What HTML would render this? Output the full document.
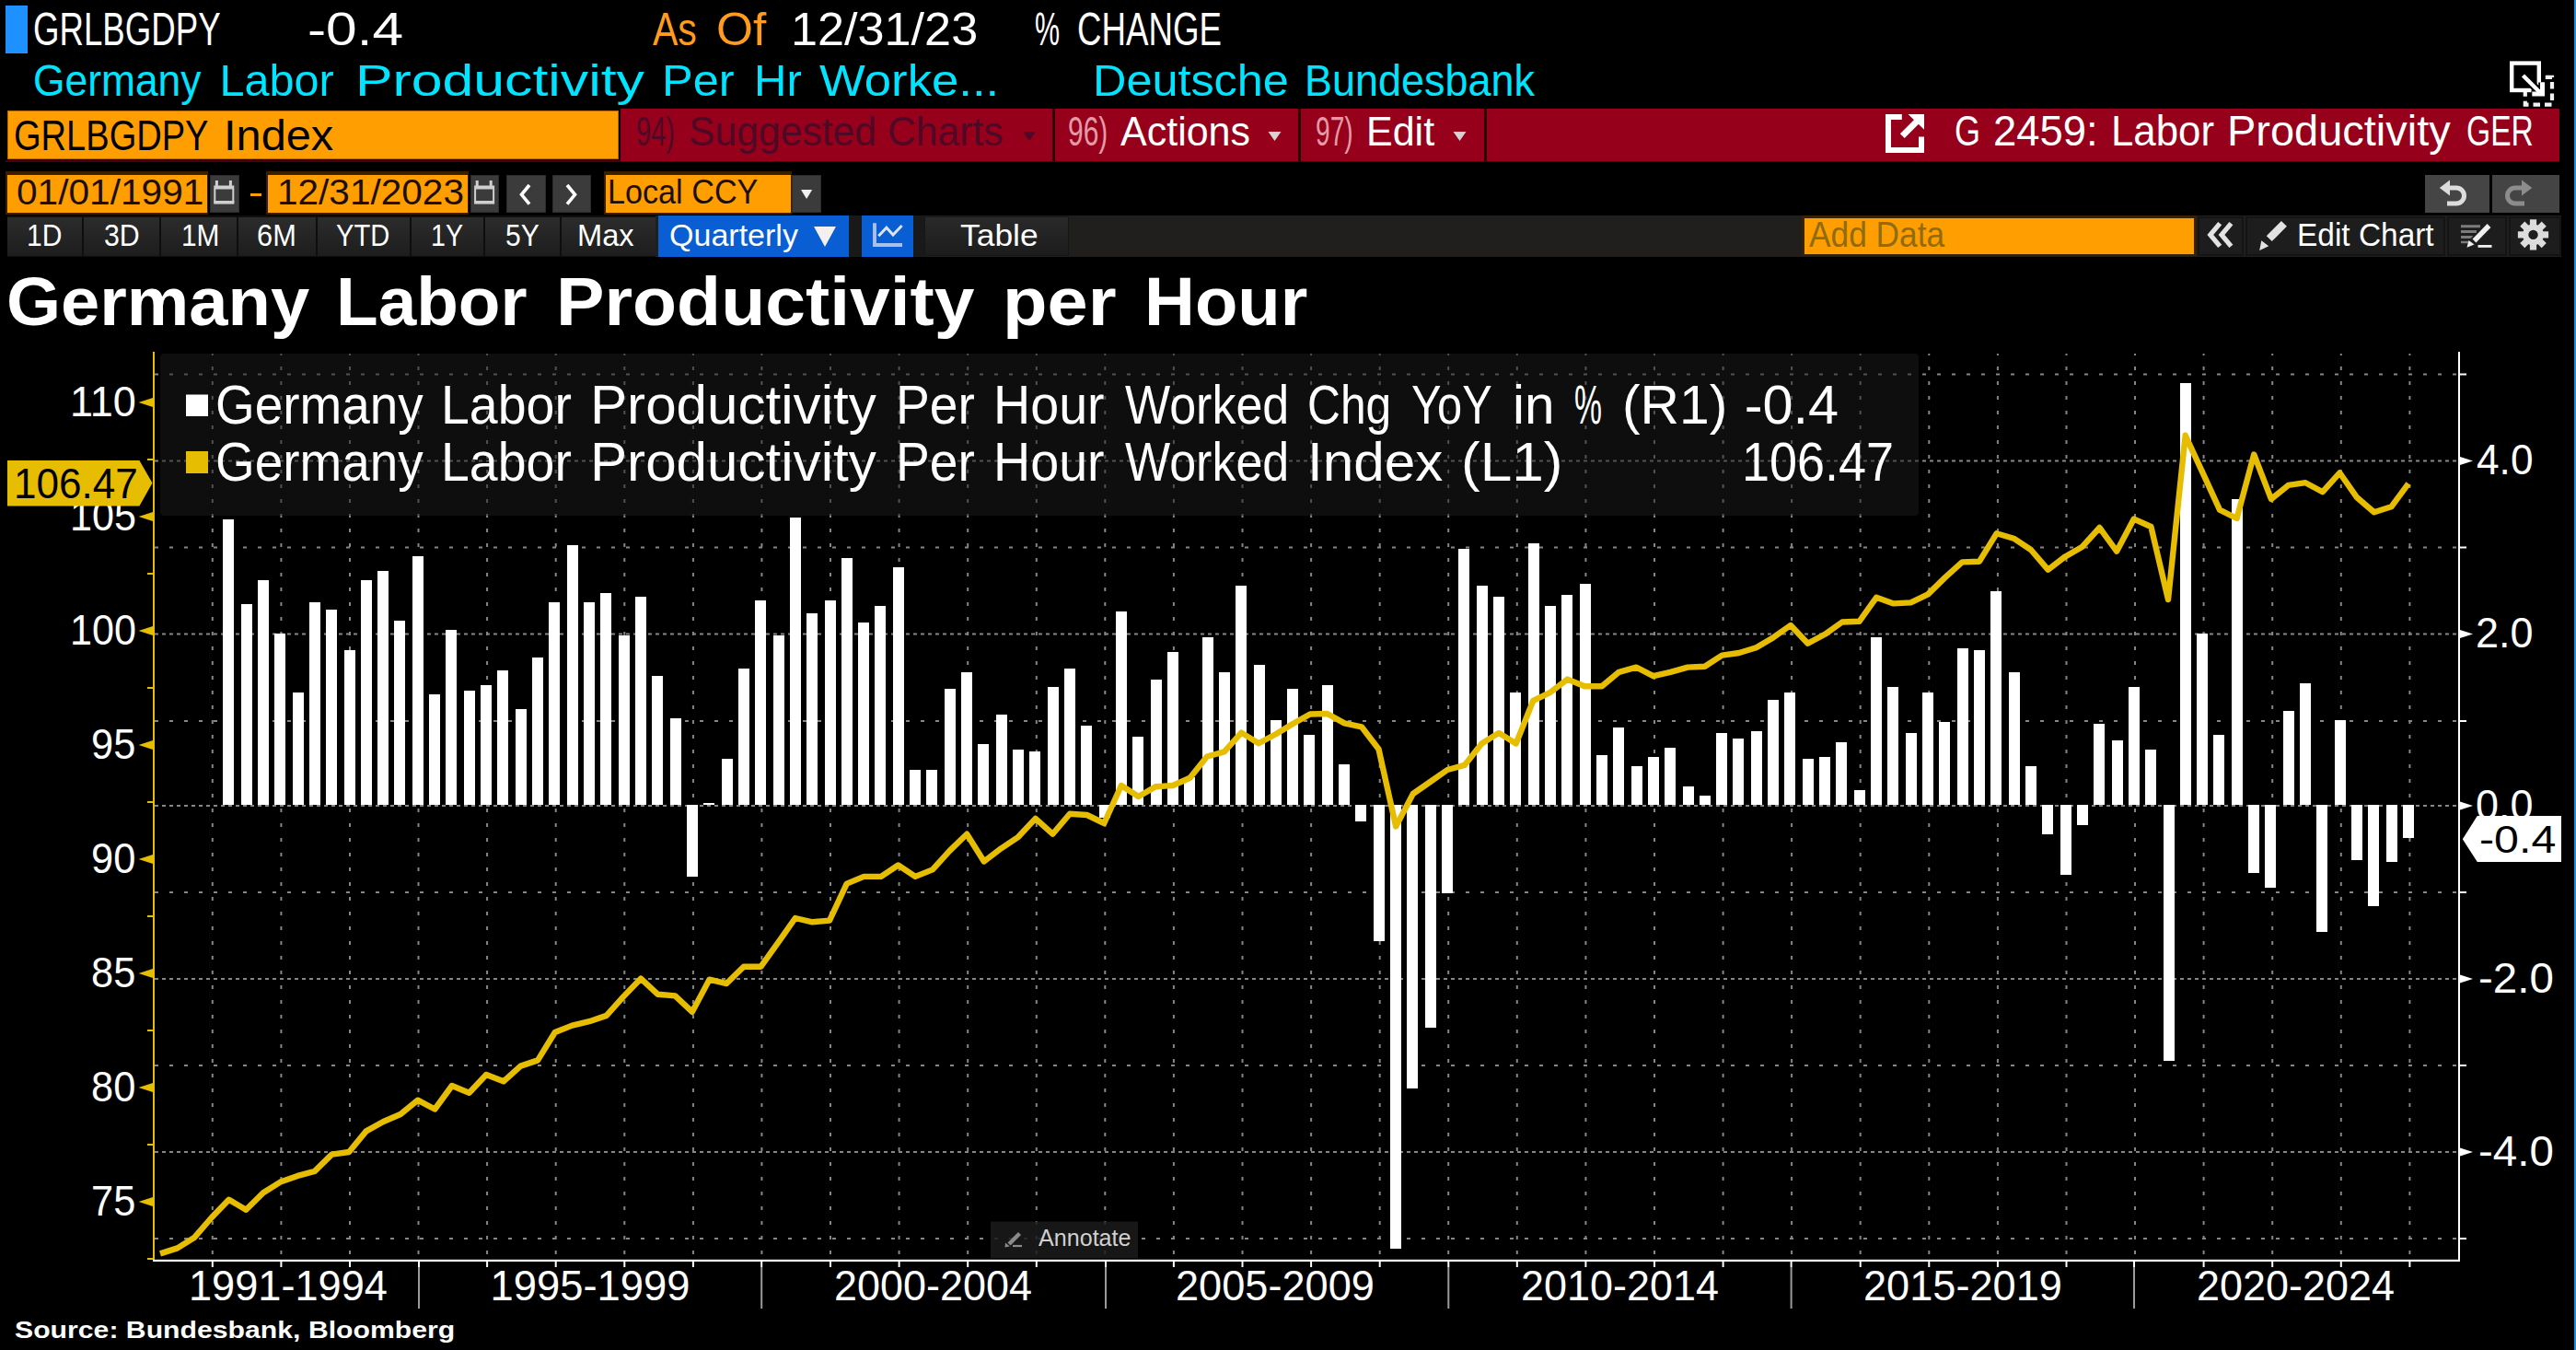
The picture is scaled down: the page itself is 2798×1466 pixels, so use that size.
<!DOCTYPE html>
<html><head><meta charset="utf-8"><title>GRLBGDPY Index</title>
<style>
html,body{margin:0;padding:0;background:#000;}
body{width:2798px;height:1466px;overflow:hidden;position:relative;font-family:"Liberation Sans",sans-serif;}
.t{position:absolute;white-space:pre;transform-origin:0 0;font-family:"Liberation Sans",sans-serif;}
svg{display:block;overflow:visible}
</style></head><body>
<div style="position:absolute;left:6.00px;top:6.00px;width:24.00px;height:52.00px;background:#1e90ff;"></div>
<div style="position:absolute;left:2796.00px;top:0.00px;width:2.00px;height:1466.00px;background:#1c8fe0;"></div>
<div style="position:absolute;left:8.00px;top:120.00px;width:664.00px;height:53.00px;background:#ff9e00;box-shadow:inset 0 0 0 1px #b86a00;"></div>
<div style="position:absolute;left:6.00px;top:174.00px;width:2774.00px;height:2.00px;background:#4a000c;"></div>
<div style="position:absolute;left:674.00px;top:118.00px;width:2106.00px;height:57.00px;background:#97001b;"></div>
<div style="position:absolute;left:1143.00px;top:118.00px;width:3.00px;height:57.00px;background:#2a0006;"></div>
<div style="position:absolute;left:1410.00px;top:118.00px;width:3.00px;height:57.00px;background:#2a0006;"></div>
<div style="position:absolute;left:1612.00px;top:118.00px;width:3.00px;height:57.00px;background:#2a0006;"></div>
<div style="position:absolute;left:6.00px;top:186.40px;width:220.00px;height:46.40px;background:#3a1e00;"></div>
<div style="position:absolute;left:8.00px;top:190.00px;width:217.00px;height:40.50px;background:#ff9e00;"></div>
<div style="position:absolute;left:289.00px;top:186.40px;width:220.00px;height:46.40px;background:#3a1e00;"></div>
<div style="position:absolute;left:291.00px;top:190.00px;width:217.00px;height:40.50px;background:#ff9e00;"></div>
<div style="position:absolute;left:656.00px;top:186.40px;width:203.50px;height:46.40px;background:#3a1e00;"></div>
<div style="position:absolute;left:658.00px;top:190.00px;width:200.50px;height:40.50px;background:#ff9e00;"></div>
<div style="position:absolute;left:227.50px;top:190.00px;width:32.50px;height:40.50px;background:#3b3b3b;box-shadow:inset 0 0 0 1px #2c2c2c;"></div>
<div style="position:absolute;left:510.50px;top:190.00px;width:31.50px;height:40.50px;background:#3b3b3b;box-shadow:inset 0 0 0 1px #2c2c2c;"></div>
<div style="position:absolute;left:549.50px;top:190.00px;width:43.00px;height:40.50px;background:#3b3b3b;box-shadow:inset 0 0 0 1px #2c2c2c;"></div>
<div style="position:absolute;left:600.00px;top:190.00px;width:42.00px;height:40.50px;background:#3b3b3b;box-shadow:inset 0 0 0 1px #2c2c2c;"></div>
<div style="position:absolute;left:860.00px;top:190.00px;width:32.00px;height:40.50px;background:#3b3b3b;box-shadow:inset 0 0 0 1px #2c2c2c;"></div>
<div style="position:absolute;left:272.00px;top:209.50px;width:12.00px;height:3.00px;background:#ff9e00;"></div>
<div style="position:absolute;left:2634.00px;top:190.00px;width:70.00px;height:40.50px;background:#454545;"></div>
<div style="position:absolute;left:2706.50px;top:190.00px;width:73.50px;height:40.50px;background:#444444;"></div>
<div style="position:absolute;left:8.00px;top:234.00px;width:2773.50px;height:45.00px;background:#201f1e;"></div>
<div style="position:absolute;left:8.00px;top:234.00px;width:704.00px;height:45.00px;background:#0e0e0e;"></div>
<div style="position:absolute;left:8.00px;top:235.50px;width:81.00px;height:42.50px;background:linear-gradient(#2c2c2c,#1d1d1d);"></div>
<div style="position:absolute;left:91.00px;top:235.50px;width:81.50px;height:42.50px;background:linear-gradient(#2c2c2c,#1d1d1d);"></div>
<div style="position:absolute;left:174.50px;top:235.50px;width:82.50px;height:42.50px;background:linear-gradient(#2c2c2c,#1d1d1d);"></div>
<div style="position:absolute;left:259.00px;top:235.50px;width:83.50px;height:42.50px;background:linear-gradient(#2c2c2c,#1d1d1d);"></div>
<div style="position:absolute;left:344.50px;top:235.50px;width:100.00px;height:42.50px;background:linear-gradient(#2c2c2c,#1d1d1d);"></div>
<div style="position:absolute;left:446.50px;top:235.50px;width:78.00px;height:42.50px;background:linear-gradient(#2c2c2c,#1d1d1d);"></div>
<div style="position:absolute;left:526.50px;top:235.50px;width:81.50px;height:42.50px;background:linear-gradient(#2c2c2c,#1d1d1d);"></div>
<div style="position:absolute;left:610.00px;top:235.50px;width:102.00px;height:42.50px;background:linear-gradient(#2c2c2c,#1d1d1d);"></div>
<div style="position:absolute;left:714.50px;top:234.00px;width:207.00px;height:44.50px;background:#085ed2;"></div>
<div style="position:absolute;left:921.50px;top:234.00px;width:14.00px;height:45.00px;background:#191919;"></div>
<div style="position:absolute;left:935.75px;top:234.00px;width:56.25px;height:44.50px;background:#085ed2;"></div>
<div style="position:absolute;left:992.00px;top:234.00px;width:12.00px;height:45.00px;background:#191919;"></div>
<div style="position:absolute;left:1004.00px;top:235.00px;width:157.00px;height:43.00px;background:linear-gradient(#2a2a2a,#1c1c1c);box-shadow:inset 0 0 0 1px #161616;"></div>
<div style="position:absolute;left:1957.00px;top:234.00px;width:428.00px;height:44.00px;background:#3a2200;"></div>
<div style="position:absolute;left:1959.50px;top:236.50px;width:423.00px;height:39.00px;background:#ff9e00;"></div>
<div style="position:absolute;left:2387.00px;top:235.00px;width:49.50px;height:43.00px;background:#1d1d1d;box-shadow:inset 0 0 0 2px #141414;"></div>
<div style="position:absolute;left:2439.00px;top:235.00px;width:217.00px;height:43.00px;background:#1d1d1d;box-shadow:inset 0 0 0 2px #141414;"></div>
<div style="position:absolute;left:2657.75px;top:235.00px;width:65.00px;height:43.00px;background:#1d1d1d;box-shadow:inset 0 0 0 2px #141414;"></div>
<div style="position:absolute;left:2724.50px;top:235.00px;width:57.00px;height:43.00px;background:#1d1d1d;box-shadow:inset 0 0 0 2px #141414;"></div>
<svg style="position:absolute;left:0;top:0" width="2798" height="1466" viewBox="0 0 2798 1466"><path d="M168 500.5H2670 M168 688.5H2670 M168 875H2670 M168 1063H2670 M168 1251H2670" stroke="#868686" stroke-width="2" stroke-dasharray="4 4" fill="none"/><path d="M168 406.5H2670 M168 594.5H2670 M168 783H2670 M168 969H2670 M168 1157H2670 M168 1345H2670" stroke="#868686" stroke-width="2" stroke-dasharray="4 12" fill="none"/><path d="M230.8 384V1368 M305.4 384V1368 M380.0 384V1368 M454.5 384V1368 M529.1 384V1368 M603.7 384V1368 M678.3 384V1368 M752.9 384V1368 M827.4 384V1368 M902.0 384V1368 M976.6 384V1368 M1051.2 384V1368 M1125.8 384V1368 M1200.3 384V1368 M1274.9 384V1368 M1349.5 384V1368 M1424.1 384V1368 M1498.7 384V1368 M1573.2 384V1368 M1647.8 384V1368 M1722.4 384V1368 M1797.0 384V1368 M1871.6 384V1368 M1946.1 384V1368 M2020.7 384V1368 M2095.3 384V1368 M2169.9 384V1368 M2244.5 384V1368 M2319.0 384V1368 M2393.6 384V1368 M2468.2 384V1368 M2542.8 384V1368 M2617.4 384V1368" stroke="#868686" stroke-width="2" stroke-dasharray="4 12" stroke-dashoffset="2" fill="none"/><rect x="174" y="384" width="1910" height="176" rx="4" fill="#1c1c1c" fill-opacity="0.5"/><path d="M242 564h12V874h-12ZM262 656h12V874h-12ZM280 630h12V874h-12ZM298 688h12V874h-12ZM318 752h12V874h-12ZM336 654h12V874h-12ZM354 662h12V874h-12ZM374 706h12V874h-12ZM392 630h12V874h-12ZM410 620h12V874h-12ZM428 674h12V874h-12ZM448 604h12V874h-12ZM466 754h12V874h-12ZM484 684h12V874h-12ZM504 750h12V874h-12ZM522 744h12V874h-12ZM540 728h12V874h-12ZM560 770h12V874h-12ZM578 714h12V874h-12ZM596 654h12V874h-12ZM616 592h12V874h-12ZM634 654h12V874h-12ZM652 644h12V874h-12ZM672 690h12V874h-12ZM690 648h12V874h-12ZM708 734h12V874h-12ZM728 780h12V874h-12ZM746 874h12V952h-12ZM764 872h12V874h-12ZM784 824h12V874h-12ZM802 726h12V874h-12ZM820 652h12V874h-12ZM840 690h12V874h-12ZM858 562h12V874h-12ZM876 666h12V874h-12ZM896 652h12V874h-12ZM914 606h12V874h-12ZM932 676h12V874h-12ZM950 658h12V874h-12ZM970 616h12V874h-12ZM988 836h12V874h-12ZM1006 836h12V874h-12ZM1026 748h12V874h-12ZM1044 730h12V874h-12ZM1062 808h12V874h-12ZM1082 776h12V874h-12ZM1100 814h12V874h-12ZM1118 816h12V874h-12ZM1138 746h12V874h-12ZM1156 726h12V874h-12ZM1174 788h12V874h-12ZM1194 874h12V888h-12ZM1212 664h12V874h-12ZM1230 800h12V874h-12ZM1250 738h12V874h-12ZM1268 708h12V874h-12ZM1286 844h12V874h-12ZM1306 692h12V874h-12ZM1324 730h12V874h-12ZM1342 636h12V874h-12ZM1362 722h12V874h-12ZM1380 782h12V874h-12ZM1398 748h12V874h-12ZM1416 798h12V874h-12ZM1436 744h12V874h-12ZM1454 830h12V874h-12ZM1472 874h12V892h-12ZM1492 874h12V1022h-12ZM1510 874h12V1356h-12ZM1528 874h12V1182h-12ZM1548 874h12V1116h-12ZM1566 874h12V970h-12ZM1584 596h12V874h-12ZM1604 636h12V874h-12ZM1622 648h12V874h-12ZM1640 752h12V874h-12ZM1660 590h12V874h-12ZM1678 658h12V874h-12ZM1696 646h12V874h-12ZM1716 634h12V874h-12ZM1734 820h12V874h-12ZM1752 790h12V874h-12ZM1772 832h12V874h-12ZM1790 822h12V874h-12ZM1808 812h12V874h-12ZM1828 854h12V874h-12ZM1846 864h12V874h-12ZM1864 796h12V874h-12ZM1882 802h12V874h-12ZM1902 794h12V874h-12ZM1920 760h12V874h-12ZM1938 752h12V874h-12ZM1958 824h12V874h-12ZM1976 822h12V874h-12ZM1994 806h12V874h-12ZM2014 858h12V874h-12ZM2032 692h12V874h-12ZM2050 746h12V874h-12ZM2070 796h12V874h-12ZM2088 752h12V874h-12ZM2106 784h12V874h-12ZM2126 704h12V874h-12ZM2144 706h12V874h-12ZM2162 642h12V874h-12ZM2182 730h12V874h-12ZM2200 832h12V874h-12ZM2218 874h12V906h-12ZM2238 874h12V950h-12ZM2256 874h12V896h-12ZM2274 786h12V874h-12ZM2294 804h12V874h-12ZM2312 746h12V874h-12ZM2330 814h12V874h-12ZM2350 874h12V1152h-12ZM2368 416h12V874h-12ZM2386 688h12V874h-12ZM2404 798h12V874h-12ZM2424 542h12V874h-12ZM2442 874h12V948h-12ZM2460 874h12V964h-12ZM2480 772h12V874h-12ZM2498 742h12V874h-12ZM2516 874h12V1012h-12ZM2536 782h12V874h-12ZM2554 874h12V934h-12ZM2572 874h12V984h-12ZM2592 874h12V936h-12ZM2610 874h12V910h-12Z" fill="#fff"/><polyline points="174.0,1361.4 192.7,1355.4 211.3,1343.7 230.0,1322.0 248.6,1302.7 267.2,1313.7 285.9,1295.3 304.5,1283.6 323.2,1276.9 341.8,1271.9 360.4,1253.6 379.1,1251.0 397.7,1228.4 416.4,1218.0 435.0,1210.0 453.7,1194.7 472.3,1204.5 490.9,1179.0 509.6,1186.7 528.2,1167.0 546.9,1174.3 565.5,1157.6 584.1,1151.4 602.8,1121.0 621.4,1113.6 640.1,1109.2 658.7,1102.9 677.3,1082.1 696.0,1062.7 714.6,1079.8 733.3,1081.4 751.9,1098.8 770.5,1063.7 789.2,1068.1 807.8,1049.7 826.5,1049.7 845.1,1023.7 863.8,997.0 882.4,1001.3 901.0,999.6 919.7,959.6 938.3,951.9 957.0,951.9 975.6,939.5 994.2,951.9 1012.9,944.4 1031.5,923.9 1050.2,905.7 1068.8,935.5 1087.4,921.3 1106.1,908.8 1124.7,888.9 1143.4,905.7 1162.0,883.7 1180.6,885.0 1199.3,894.0 1217.9,853.0 1236.6,865.0 1255.2,854.2 1273.9,853.0 1292.5,844.8 1311.1,821.5 1329.8,816.3 1348.4,795.6 1367.1,807.2 1385.7,797.3 1404.3,786.0 1423.0,775.5 1441.6,775.0 1460.3,785.4 1478.9,789.3 1497.5,813.5 1516.2,897.5 1534.8,862.0 1553.5,849.0 1572.1,836.0 1590.8,830.9 1609.4,807.5 1628.0,795.9 1646.7,807.5 1665.3,760.9 1684.0,751.8 1702.6,737.6 1721.2,745.3 1739.9,745.3 1758.5,729.8 1777.2,724.6 1795.8,734.2 1814.4,729.8 1833.1,724.6 1851.7,723.8 1870.4,711.6 1889.0,709.0 1907.6,703.3 1926.3,692.2 1944.9,679.0 1963.6,698.8 1982.2,688.8 2000.9,675.5 2019.5,674.8 2038.1,648.8 2056.8,655.4 2075.4,654.4 2094.1,645.4 2112.7,627.1 2131.3,610.4 2150.0,609.7 2168.6,579.3 2187.3,584.7 2205.9,597.0 2224.5,618.7 2243.2,604.4 2261.8,593.7 2280.5,573.0 2299.1,598.7 2317.8,563.6 2336.4,572.0 2355.0,651.1 2373.7,472.8 2392.3,512.9 2411.0,553.6 2429.6,563.0 2448.2,493.5 2466.9,541.9 2485.5,526.9 2504.2,524.2 2522.8,534.2 2541.4,513.5 2560.1,540.3 2578.7,556.3 2597.4,550.3 2616.0,525.2" fill="none" stroke="#e6bd00" stroke-width="6.4" stroke-linejoin="round" stroke-linecap="butt"/><rect x="166" y="382" width="2" height="987" fill="#e6bd00"/><rect x="166" y="1367.8" width="2506" height="2.2" fill="#fff"/><rect x="2670" y="382" width="2" height="988" fill="#fff"/><path d="M150.5 437L166 432V442Z" fill="#e6bd00"/><path d="M150.5 561L166 556V566Z" fill="#e6bd00"/><path d="M150.5 685L166 680V690Z" fill="#e6bd00"/><path d="M150.5 809L166 804V814Z" fill="#e6bd00"/><path d="M150.5 933L166 928V938Z" fill="#e6bd00"/><path d="M150.5 1057L166 1052V1062Z" fill="#e6bd00"/><path d="M150.5 1181L166 1176V1186Z" fill="#e6bd00"/><path d="M150.5 1305L166 1300V1310Z" fill="#e6bd00"/><rect x="160" y="498" width="6" height="2" fill="#e6bd00"/><rect x="160" y="622" width="6" height="2" fill="#e6bd00"/><rect x="160" y="746" width="6" height="2" fill="#e6bd00"/><rect x="160" y="870" width="6" height="2" fill="#e6bd00"/><rect x="160" y="994" width="6" height="2" fill="#e6bd00"/><rect x="160" y="1118" width="6" height="2" fill="#e6bd00"/><rect x="160" y="1242" width="6" height="2" fill="#e6bd00"/><rect x="160" y="1366" width="6" height="2" fill="#e6bd00"/><path d="M2672 496.0L2686 500.5L2672 505.0Z" fill="#fff"/><path d="M2672 684.0L2686 688.5L2672 693.0Z" fill="#fff"/><path d="M2672 870.5L2686 875L2672 879.5Z" fill="#fff"/><path d="M2672 1058.5L2686 1063L2672 1067.5Z" fill="#fff"/><path d="M2672 1246.5L2686 1251L2672 1255.5Z" fill="#fff"/><rect x="2672" y="405.5" width="7" height="2" fill="#fff"/><rect x="2672" y="593.5" width="7" height="2" fill="#fff"/><rect x="2672" y="782" width="7" height="2" fill="#fff"/><rect x="2672" y="968" width="7" height="2" fill="#fff"/><rect x="2672" y="1156" width="7" height="2" fill="#fff"/><rect x="2672" y="1344" width="7" height="2" fill="#fff"/><rect x="229.8" y="1370" width="2" height="6" fill="#fff"/><rect x="304.4" y="1370" width="2" height="6" fill="#fff"/><rect x="379.0" y="1370" width="2" height="6" fill="#fff"/><rect x="528.1" y="1370" width="2" height="6" fill="#fff"/><rect x="602.7" y="1370" width="2" height="6" fill="#fff"/><rect x="677.3" y="1370" width="2" height="6" fill="#fff"/><rect x="751.9" y="1370" width="2" height="6" fill="#fff"/><rect x="901.0" y="1370" width="2" height="6" fill="#fff"/><rect x="975.6" y="1370" width="2" height="6" fill="#fff"/><rect x="1050.2" y="1370" width="2" height="6" fill="#fff"/><rect x="1124.8" y="1370" width="2" height="6" fill="#fff"/><rect x="1273.9" y="1370" width="2" height="6" fill="#fff"/><rect x="1348.5" y="1370" width="2" height="6" fill="#fff"/><rect x="1423.1" y="1370" width="2" height="6" fill="#fff"/><rect x="1497.7" y="1370" width="2" height="6" fill="#fff"/><rect x="1646.8" y="1370" width="2" height="6" fill="#fff"/><rect x="1721.4" y="1370" width="2" height="6" fill="#fff"/><rect x="1796.0" y="1370" width="2" height="6" fill="#fff"/><rect x="1870.6" y="1370" width="2" height="6" fill="#fff"/><rect x="2019.7" y="1370" width="2" height="6" fill="#fff"/><rect x="2094.3" y="1370" width="2" height="6" fill="#fff"/><rect x="2168.9" y="1370" width="2" height="6" fill="#fff"/><rect x="2243.5" y="1370" width="2" height="6" fill="#fff"/><rect x="2392.6" y="1370" width="2" height="6" fill="#fff"/><rect x="2467.2" y="1370" width="2" height="6" fill="#fff"/><rect x="2541.8" y="1370" width="2" height="6" fill="#fff"/><rect x="2616.4" y="1370" width="2" height="6" fill="#fff"/><rect x="454.0" y="1370" width="2" height="6" fill="#fff"/><rect x="454.0" y="1376" width="2" height="45" fill="#9a9a9a"/><rect x="826.2" y="1370" width="2" height="6" fill="#fff"/><rect x="826.2" y="1376" width="2" height="45" fill="#9a9a9a"/><rect x="1200.0" y="1370" width="2" height="6" fill="#fff"/><rect x="1200.0" y="1376" width="2" height="45" fill="#9a9a9a"/><rect x="1572.3" y="1370" width="2" height="6" fill="#fff"/><rect x="1572.3" y="1376" width="2" height="45" fill="#9a9a9a"/><rect x="1944.6" y="1370" width="2" height="6" fill="#fff"/><rect x="1944.6" y="1376" width="2" height="45" fill="#9a9a9a"/><rect x="2317.0" y="1370" width="2" height="6" fill="#fff"/><rect x="2317.0" y="1376" width="2" height="45" fill="#9a9a9a"/><rect x="202" y="428.5" width="24" height="23.5" fill="#fff"/><rect x="202" y="490" width="24" height="24" fill="#e6bd00"/><rect x="1076" y="1326.5" width="160" height="39.7" fill="#1b1b1b" fill-opacity="0.85"/></svg>
<svg style="position:absolute;left:0;top:0" width="2798" height="1466" viewBox="0 0 2798 1466"><path d="M1111 143h14l-7 10z" fill="#4f0926"/><path d="M1377.5 143h14l-7 10z" fill="#d8d2d2"/><path d="M1578.5 143h14l-7 10z" fill="#d8d2d2"/><path d="M870 206h12.2l-6.1 10z" fill="#f0f0f0"/><path d="M884 246h24l-12 22z" fill="#f4f0f0"/><rect x="233.9" y="196" width="3" height="8" fill="#cfcfcf"/><rect x="248.9" y="196" width="3" height="8" fill="#cfcfcf"/><rect x="232.3" y="201.5" width="22" height="4" fill="#cfcfcf"/><path d="M233.3 205V219.5H253.3V205" fill="none" stroke="#cfcfcf" stroke-width="2"/><rect x="232.3" y="218" width="22" height="3.6" fill="#cfcfcf"/><rect x="516.7" y="196" width="3" height="8" fill="#cfcfcf"/><rect x="531.7" y="196" width="3" height="8" fill="#cfcfcf"/><rect x="515.1" y="201.5" width="22" height="4" fill="#cfcfcf"/><path d="M516.1 205V219.5H536.1V205" fill="none" stroke="#cfcfcf" stroke-width="2"/><rect x="515.1" y="218" width="22" height="3.6" fill="#cfcfcf"/><path d="M575 201L566.5 211.3L575 221.6" fill="none" stroke="#fff" stroke-width="3.6"/><path d="M616 201L624.5 211.3L616 221.6" fill="none" stroke="#fff" stroke-width="3.6"/><path d="M950 242.2V266H980" fill="none" stroke="#a9c1ea" stroke-width="3.9"/><path d="M954.3 256.2L962.9 247.2L970 255L979.6 245" fill="none" stroke="#dfe3ee" stroke-width="3"/><path d="M2065.8 127H2051V163H2087V148.4" fill="none" stroke="#fff" stroke-width="6"/><path d="M2066.3 147.6L2083.5 130.4" stroke="#fff" stroke-width="6.8"/><path d="M2072.5 124H2090V140.8Z" fill="#fff"/><rect x="2742.8" y="83.8" width="29.2" height="29.8" fill="none" stroke="#f2f2f2" stroke-width="4.2" stroke-dasharray="7.5 5" stroke-dashoffset="3"/><rect x="2728.2" y="68.6" width="29.6" height="29.4" fill="#000" stroke="#fff" stroke-width="4.4"/><path d="M2740.5 82L2760 101.5M2749.5 102H2761.5V89.5" fill="none" stroke="#000" stroke-width="8.5"/><path d="M2740.5 82L2760 101.5" fill="none" stroke="#fff" stroke-width="4.5"/><path d="M2750.3 102H2761.5V89.2" fill="none" stroke="#fff" stroke-width="5"/><path d="M2660 204H2668a8 8 0 0 1 0 17H2658" fill="none" stroke="#dcdcdc" stroke-width="5"/><path d="M2649.8 204L2661 195.5V212.5Z" fill="#dcdcdc"/><path d="M2740 204H2732a8 8 0 0 0 0 17H2742" fill="none" stroke="#8c8c8c" stroke-width="5"/><path d="M2750.3 204L2739 195.5V212.5Z" fill="#8c8c8c"/><path d="M2411.2 242.6L2400.8 255L2411.2 267.4M2423.4 242.6L2413 255L2423.4 267.4" fill="none" stroke="#e2e2e2" stroke-width="5.2"/><path d="M2480.9 242.9L2464.8 259.1" stroke="#e2e2e2" stroke-width="8.4"/><path d="M2456.3 261.3L2464.2 267.2L2454.2 272Z" fill="#e2e2e2"/><path d="M2673 245.8H2694M2673 251.6H2690M2673 257.4H2686" stroke="#7c7c7c" stroke-width="3"/><path d="M2673 263H2681" stroke="#7c7c7c" stroke-width="2.4"/><path d="M2703 245.5L2684 265" stroke="#1f1f1f" stroke-width="9"/><path d="M2703.5 245L2687.5 261.5" stroke="#f0f0f0" stroke-width="5.4"/><path d="M2681.5 261L2687.5 265.5L2679.5 268.8Z" fill="#f0f0f0"/><path d="M2691.5 267.4H2706.5" stroke="#f0f0f0" stroke-width="2.8"/><rect x="2747.9" y="238.3" width="7.2" height="9" fill="#dcdcdc" transform="rotate(0 2751.5 254.9)"/><rect x="2747.9" y="238.3" width="7.2" height="9" fill="#dcdcdc" transform="rotate(45 2751.5 254.9)"/><rect x="2747.9" y="238.3" width="7.2" height="9" fill="#dcdcdc" transform="rotate(90 2751.5 254.9)"/><rect x="2747.9" y="238.3" width="7.2" height="9" fill="#dcdcdc" transform="rotate(135 2751.5 254.9)"/><rect x="2747.9" y="238.3" width="7.2" height="9" fill="#dcdcdc" transform="rotate(180 2751.5 254.9)"/><rect x="2747.9" y="238.3" width="7.2" height="9" fill="#dcdcdc" transform="rotate(225 2751.5 254.9)"/><rect x="2747.9" y="238.3" width="7.2" height="9" fill="#dcdcdc" transform="rotate(270 2751.5 254.9)"/><rect x="2747.9" y="238.3" width="7.2" height="9" fill="#dcdcdc" transform="rotate(315 2751.5 254.9)"/><circle cx="2751.5" cy="254.9" r="8.3" fill="none" stroke="#dcdcdc" stroke-width="6.2"/><path d="M1107.5 1339.5L1096 1351" stroke="#8a8a8a" stroke-width="4.4"/><path d="M1092 1349.5L1096.8 1353.5L1091.5 1354.4Z" fill="#8a8a8a"/><path d="M1100 1353H1110" stroke="#8a8a8a" stroke-width="2.2"/></svg>
<span class="t" style="left:36.03px;top:7.00px;font-size:50.00px;line-height:50.00px;color:#ffffff;transform:scaleX(0.7327)">GRLBGDPY</span>
<span class="t" style="left:333.58px;top:7.00px;font-size:50.00px;line-height:50.00px;color:#ffffff;transform:scaleX(1.2078)">-0.4</span>
<span class="t" style="left:708.50px;top:7.00px;font-size:50.00px;line-height:50.00px;color:#ff9c1f;transform:scaleX(0.8202)">As</span>
<span class="t" style="left:778.19px;top:7.00px;font-size:50.00px;line-height:50.00px;color:#ff9c1f;transform:scaleX(1.0294)">Of</span>
<span class="t" style="left:858.57px;top:7.00px;font-size:50.00px;line-height:50.00px;color:#ffffff;transform:scaleX(1.0439)">12/31/23</span>
<span class="t" style="left:1124.03px;top:7.00px;font-size:50.00px;line-height:50.00px;color:#ffffff;transform:scaleX(0.6098)">%</span>
<span class="t" style="left:1170.03px;top:7.00px;font-size:50.00px;line-height:50.00px;color:#ffffff;transform:scaleX(0.7333)">CHANGE</span>
<span class="t" style="left:35.67px;top:63.23px;font-size:48.55px;line-height:48.55px;color:#00e4ff;transform:scaleX(0.9137)">Germany</span>
<span class="t" style="left:238.50px;top:63.23px;font-size:48.55px;line-height:48.55px;color:#00e4ff;transform:scaleX(1.0000)">Labor</span>
<span class="t" style="left:386.25px;top:63.23px;font-size:48.55px;line-height:48.55px;color:#00e4ff;transform:scaleX(1.2510)">Productivity</span>
<span class="t" style="left:718.60px;top:63.23px;font-size:48.55px;line-height:48.55px;color:#00e4ff;transform:scaleX(1.0387)">Per</span>
<span class="t" style="left:818.71px;top:63.23px;font-size:48.55px;line-height:48.55px;color:#00e4ff;transform:scaleX(1.0106)">Hr</span>
<span class="t" style="left:890.25px;top:63.23px;font-size:48.55px;line-height:48.55px;color:#00e4ff;transform:scaleX(1.0857)">Worke...</span>
<span class="t" style="left:1187.35px;top:63.23px;font-size:48.55px;line-height:48.55px;color:#00e4ff;transform:scaleX(1.0377)">Deutsche</span>
<span class="t" style="left:1416.80px;top:63.23px;font-size:48.55px;line-height:48.55px;color:#00e4ff;transform:scaleX(0.9258)">Bundesbank</span>
<span class="t" style="left:15.36px;top:123.58px;font-size:46.38px;line-height:46.38px;color:#000000;transform:scaleX(0.8206)">GRLBGDPY</span>
<span class="t" style="left:243.30px;top:123.58px;font-size:46.38px;line-height:46.38px;color:#000000;transform:scaleX(1.0505)">Index</span>
<span class="t" style="left:691.41px;top:121.79px;font-size:43.48px;line-height:43.48px;color:#4f0926;transform:scaleX(0.6681)">94)</span>
<span class="t" style="left:748.29px;top:121.79px;font-size:43.48px;line-height:43.48px;color:#4f0926;transform:scaleX(0.9819)">Suggested Charts</span>
<span class="t" style="left:1160.12px;top:121.79px;font-size:43.48px;line-height:43.48px;color:#e39aa6;transform:scaleX(0.6897)">96)</span>
<span class="t" style="left:1216.50px;top:121.79px;font-size:43.48px;line-height:43.48px;color:#ffffff;transform:scaleX(0.9894)">Actions</span>
<span class="t" style="left:1429.21px;top:121.79px;font-size:43.48px;line-height:43.48px;color:#e39aa6;transform:scaleX(0.6466)">97)</span>
<span class="t" style="left:1483.78px;top:121.79px;font-size:43.48px;line-height:43.48px;color:#ffffff;transform:scaleX(0.9896)">Edit</span>
<span class="t" style="left:2122.92px;top:120.20px;font-size:45.65px;line-height:45.65px;color:#ffffff;transform:scaleX(0.7917)">G</span>
<span class="t" style="left:2164.51px;top:120.20px;font-size:45.65px;line-height:45.65px;color:#ffffff;transform:scaleX(0.9954)">2459:</span>
<span class="t" style="left:2292.66px;top:120.20px;font-size:45.65px;line-height:45.65px;color:#ffffff;transform:scaleX(0.9598)">Labor</span>
<span class="t" style="left:2418.63px;top:120.20px;font-size:45.65px;line-height:45.65px;color:#ffffff;transform:scaleX(1.0291)">Productivity</span>
<span class="t" style="left:2678.78px;top:120.20px;font-size:45.65px;line-height:45.65px;color:#ffffff;transform:scaleX(0.7368)">GER</span>
<span class="t" style="left:18.44px;top:189.86px;font-size:38.41px;line-height:38.41px;color:#1c0e00;transform:scaleX(1.0582)">01/01/1991</span>
<span class="t" style="left:300.83px;top:189.86px;font-size:38.41px;line-height:38.41px;color:#1c0e00;transform:scaleX(1.0559)">12/31/2023</span>
<span class="t" style="left:660.23px;top:191.09px;font-size:36.96px;line-height:36.96px;color:#1c0e00;transform:scaleX(0.9249)">Local CCY</span>
<span class="t" style="left:29.16px;top:239.78px;font-size:32.61px;line-height:32.61px;color:#ffffff;transform:scaleX(0.9211)">1D</span>
<span class="t" style="left:112.82px;top:239.78px;font-size:32.61px;line-height:32.61px;color:#ffffff;transform:scaleX(0.9295)">3D</span>
<span class="t" style="left:196.92px;top:239.78px;font-size:32.61px;line-height:32.61px;color:#ffffff;transform:scaleX(0.9146)">1M</span>
<span class="t" style="left:279.36px;top:239.78px;font-size:32.61px;line-height:32.61px;color:#ffffff;transform:scaleX(0.9451)">6M</span>
<span class="t" style="left:365.36px;top:239.78px;font-size:32.61px;line-height:32.61px;color:#ffffff;transform:scaleX(0.8929)">YTD</span>
<span class="t" style="left:468.24px;top:239.78px;font-size:32.61px;line-height:32.61px;color:#ffffff;transform:scaleX(0.8784)">1Y</span>
<span class="t" style="left:549.08px;top:239.78px;font-size:32.61px;line-height:32.61px;color:#ffffff;transform:scaleX(0.9211)">5Y</span>
<span class="t" style="left:627.00px;top:239.78px;font-size:32.61px;line-height:32.61px;color:#ffffff;transform:scaleX(1.0000)">Max</span>
<span class="t" style="left:726.71px;top:239.78px;font-size:32.61px;line-height:32.61px;color:#ffffff;transform:scaleX(1.0432)">Quarterly</span>
<span class="t" style="left:1042.91px;top:239.78px;font-size:32.61px;line-height:32.61px;color:#ffffff;transform:scaleX(1.0855)">Table</span>
<span class="t" style="left:1964.50px;top:235.86px;font-size:38.41px;line-height:38.41px;color:#8f6c14;transform:scaleX(0.9187)">Add Data</span>
<span class="t" style="left:2494.84px;top:238.24px;font-size:34.42px;line-height:34.42px;color:#ffffff;transform:scaleX(0.9717)">Edit Chart</span>
<span class="t" style="left:6.75px;top:290.06px;font-size:74.64px;line-height:74.64px;color:#ffffff;font-weight:bold;transform:scaleX(1.0175)">Germany</span>
<span class="t" style="left:365.30px;top:290.06px;font-size:74.64px;line-height:74.64px;color:#ffffff;font-weight:bold;transform:scaleX(1.0010)">Labor</span>
<span class="t" style="left:603.63px;top:290.06px;font-size:74.64px;line-height:74.64px;color:#ffffff;font-weight:bold;transform:scaleX(1.0540)">Productivity</span>
<span class="t" style="left:1089.28px;top:290.06px;font-size:74.64px;line-height:74.64px;color:#ffffff;font-weight:bold;transform:scaleX(1.0636)">per</span>
<span class="t" style="left:1243.20px;top:290.06px;font-size:74.64px;line-height:74.64px;color:#ffffff;font-weight:bold;transform:scaleX(1.0190)">Hour</span>
<span class="t" style="left:16.26px;top:1430.76px;font-size:26.52px;line-height:26.52px;color:#ffffff;font-weight:bold;transform:scaleX(1.1391)">Source: Bundesbank, Bloomberg</span>
<span class="t" style="left:233.53px;top:410.49px;font-size:59.42px;line-height:59.42px;color:#ffffff;transform:scaleX(0.9237)">Germany</span>
<span class="t" style="left:478.63px;top:410.49px;font-size:59.42px;line-height:59.42px;color:#ffffff;transform:scaleX(0.9336)">Labor</span>
<span class="t" style="left:640.74px;top:410.49px;font-size:59.42px;line-height:59.42px;color:#ffffff;transform:scaleX(1.0123)">Productivity</span>
<span class="t" style="left:973.06px;top:410.49px;font-size:59.42px;line-height:59.42px;color:#ffffff;transform:scaleX(0.9287)">Per</span>
<span class="t" style="left:1078.62px;top:410.49px;font-size:59.42px;line-height:59.42px;color:#ffffff;transform:scaleX(0.9366)">Hour</span>
<span class="t" style="left:1222.00px;top:410.49px;font-size:59.42px;line-height:59.42px;color:#ffffff;transform:scaleX(0.8755)">Worked</span>
<span class="t" style="left:1420.19px;top:410.49px;font-size:59.42px;line-height:59.42px;color:#ffffff;transform:scaleX(0.8373)">Chg</span>
<span class="t" style="left:1532.88px;top:410.49px;font-size:59.42px;line-height:59.42px;color:#ffffff;transform:scaleX(0.8212)">YoY</span>
<span class="t" style="left:1642.96px;top:410.49px;font-size:59.42px;line-height:59.42px;color:#ffffff;transform:scaleX(0.9846)">in</span>
<span class="t" style="left:1709.77px;top:410.49px;font-size:59.42px;line-height:59.42px;color:#ffffff;transform:scaleX(0.5673)">%</span>
<span class="t" style="left:1762.44px;top:410.49px;font-size:59.42px;line-height:59.42px;color:#ffffff;transform:scaleX(0.9889)">(R1)</span>
<span class="t" style="left:1894.70px;top:410.49px;font-size:59.42px;line-height:59.42px;color:#ffffff;transform:scaleX(1.0000)">-0.4</span>
<span class="t" style="left:233.53px;top:472.29px;font-size:59.42px;line-height:59.42px;color:#ffffff;transform:scaleX(0.9237)">Germany</span>
<span class="t" style="left:478.63px;top:472.29px;font-size:59.42px;line-height:59.42px;color:#ffffff;transform:scaleX(0.9336)">Labor</span>
<span class="t" style="left:640.74px;top:472.29px;font-size:59.42px;line-height:59.42px;color:#ffffff;transform:scaleX(1.0123)">Productivity</span>
<span class="t" style="left:973.06px;top:472.29px;font-size:59.42px;line-height:59.42px;color:#ffffff;transform:scaleX(0.9287)">Per</span>
<span class="t" style="left:1078.62px;top:472.29px;font-size:59.42px;line-height:59.42px;color:#ffffff;transform:scaleX(0.9366)">Hour</span>
<span class="t" style="left:1222.00px;top:472.29px;font-size:59.42px;line-height:59.42px;color:#ffffff;transform:scaleX(0.8755)">Worked</span>
<span class="t" style="left:1419.83px;top:472.29px;font-size:59.42px;line-height:59.42px;color:#ffffff;transform:scaleX(1.0137)">Index</span>
<span class="t" style="left:1587.22px;top:472.29px;font-size:59.42px;line-height:59.42px;color:#ffffff;transform:scaleX(1.0459)">(L1)</span>
<span class="t" style="left:1892.17px;top:472.29px;font-size:59.42px;line-height:59.42px;color:#ffffff;transform:scaleX(0.9080)">106.47</span>
<span class="t" style="left:1128.10px;top:1332.24px;font-size:25.36px;line-height:25.36px;color:#d0d0d0;transform:scaleX(0.9901)">Annotate</span>
<span class="t" style="left:75.52px;top:413.74px;font-size:45.36px;line-height:45.36px;color:#ffffff;transform:scaleX(0.9926)">110</span>
<span class="t" style="left:75.65px;top:537.74px;font-size:45.36px;line-height:45.36px;color:#ffffff;transform:scaleX(0.9507)">105</span>
<span class="t" style="left:75.65px;top:661.74px;font-size:45.36px;line-height:45.36px;color:#ffffff;transform:scaleX(0.9507)">100</span>
<span class="t" style="left:99.09px;top:785.74px;font-size:45.36px;line-height:45.36px;color:#ffffff;transform:scaleX(0.9574)">95</span>
<span class="t" style="left:99.09px;top:909.74px;font-size:45.36px;line-height:45.36px;color:#ffffff;transform:scaleX(0.9574)">90</span>
<span class="t" style="left:99.09px;top:1033.74px;font-size:45.36px;line-height:45.36px;color:#ffffff;transform:scaleX(0.9574)">85</span>
<span class="t" style="left:99.09px;top:1157.74px;font-size:45.36px;line-height:45.36px;color:#ffffff;transform:scaleX(0.9574)">80</span>
<span class="t" style="left:99.09px;top:1281.74px;font-size:45.36px;line-height:45.36px;color:#ffffff;transform:scaleX(0.9574)">75</span>
<span class="t" style="left:2689.83px;top:477.24px;font-size:45.36px;line-height:45.36px;color:#ffffff;transform:scaleX(0.9750)">4.0</span>
<span class="t" style="left:2688.82px;top:665.24px;font-size:45.36px;line-height:45.36px;color:#ffffff;transform:scaleX(0.9915)">2.0</span>
<span class="t" style="left:2688.82px;top:851.74px;font-size:45.36px;line-height:45.36px;color:#ffffff;transform:scaleX(0.9915)">0.0</span>
<span class="t" style="left:2691.91px;top:1039.74px;font-size:45.36px;line-height:45.36px;color:#ffffff;transform:scaleX(1.0467)">-2.0</span>
<span class="t" style="left:2691.91px;top:1227.74px;font-size:45.36px;line-height:45.36px;color:#ffffff;transform:scaleX(1.0467)">-4.0</span>
<span class="t" style="left:204.86px;top:1373.54px;font-size:45.36px;line-height:45.36px;color:#ffffff;transform:scaleX(0.9953)">1991-1994</span>
<span class="t" style="left:532.50px;top:1373.54px;font-size:45.36px;line-height:45.36px;color:#ffffff;transform:scaleX(1.0000)">1995-1999</span>
<span class="t" style="left:905.52px;top:1373.54px;font-size:45.36px;line-height:45.36px;color:#ffffff;transform:scaleX(0.9907)">2000-2004</span>
<span class="t" style="left:1277.21px;top:1373.54px;font-size:45.36px;line-height:45.36px;color:#ffffff;transform:scaleX(0.9953)">2005-2009</span>
<span class="t" style="left:1651.52px;top:1373.54px;font-size:45.36px;line-height:45.36px;color:#ffffff;transform:scaleX(0.9907)">2010-2014</span>
<span class="t" style="left:2023.81px;top:1373.54px;font-size:45.36px;line-height:45.36px;color:#ffffff;transform:scaleX(0.9953)">2015-2019</span>
<span class="t" style="left:2386.02px;top:1373.54px;font-size:45.36px;line-height:45.36px;color:#ffffff;transform:scaleX(0.9907)">2020-2024</span>
<svg style="position:absolute;left:0;top:0" width="2798" height="1466" viewBox="0 0 2798 1466"><path d="M8 500H151.4L165.5 524.6L151.4 549.6H8Z" fill="#e6bd00"/><path d="M2674.8 911.2L2690.8 886.1H2782V935.9H2690.8Z" fill="#fff"/></svg>
<span class="t" style="left:14.79px;top:503.04px;font-size:45.36px;line-height:45.36px;color:#000000;transform:scaleX(0.9716)">106.47</span>
<span class="t" style="left:2693.48px;top:890.84px;font-size:41.59px;line-height:41.59px;color:#000000;transform:scaleX(1.1623)">-0.4</span>
</body></html>
